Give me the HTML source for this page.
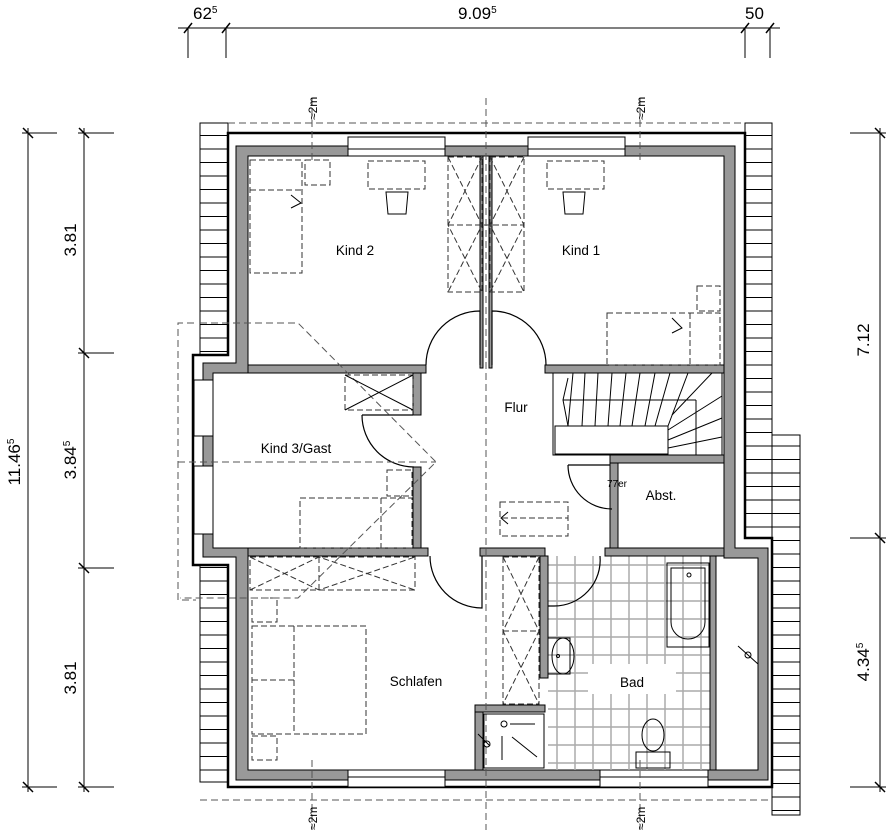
<!DOCTYPE html>
<html><head><meta charset="utf-8"><style>
html,body{margin:0;padding:0;background:#fff}
svg{display:block}
text{font-family:"Liberation Sans",sans-serif;fill:#000}
</style></head><body>
<svg width="888" height="830" viewBox="0 0 888 830" xmlns="http://www.w3.org/2000/svg">
<defs>
<pattern id="hatch" width="30" height="13.5" patternUnits="userSpaceOnUse"><rect width="30" height="13.5" fill="#fff"/><line x1="0" y1="0.5" x2="30" y2="0.5" stroke="#000" stroke-width="1"/></pattern>
<pattern id="tile" x="548" y="556" width="18" height="18" patternUnits="userSpaceOnUse"><line x1="9" y1="0" x2="9" y2="18" stroke="#aaa" stroke-width="1.5"/><line x1="0" y1="9" x2="18" y2="9" stroke="#aaa" stroke-width="1.5"/></pattern>
</defs>
<g stroke="#000" stroke-width="1" fill="none">
<line x1="178" y1="28" x2="780" y2="28"/>
<line x1="188" y1="28" x2="188" y2="58"/><line x1="226" y1="28" x2="226" y2="58"/>
<line x1="745" y1="28" x2="745" y2="58"/><line x1="770" y1="28" x2="770" y2="58"/>
<g stroke-width="1.5"><line x1="184" y1="33" x2="192" y2="23"/><line x1="222" y1="33" x2="230" y2="23"/><line x1="741" y1="33" x2="749" y2="23"/><line x1="766" y1="33" x2="774" y2="23"/></g>
<line x1="28" y1="128" x2="28" y2="792"/><line x1="84" y1="128" x2="84" y2="792"/>
<line x1="22" y1="133" x2="57" y2="133"/><line x1="22" y1="787" x2="57" y2="787"/>
<line x1="78" y1="133" x2="114" y2="133"/><line x1="78" y1="353" x2="114" y2="353"/><line x1="78" y1="568" x2="114" y2="568"/><line x1="78" y1="787" x2="114" y2="787"/>
<g stroke-width="1.5"><line x1="23" y1="128" x2="33" y2="138"/><line x1="23" y1="782" x2="33" y2="792"/><line x1="79" y1="128" x2="89" y2="138"/><line x1="79" y1="348" x2="89" y2="358"/><line x1="79" y1="563" x2="89" y2="573"/><line x1="79" y1="782" x2="89" y2="792"/></g>
<line x1="880" y1="128" x2="880" y2="792"/>
<line x1="850" y1="133" x2="886" y2="133"/><line x1="850" y1="538" x2="886" y2="538"/><line x1="850" y1="787" x2="886" y2="787"/>
<g stroke-width="1.5"><line x1="875" y1="128" x2="885" y2="138"/><line x1="875" y1="533" x2="885" y2="543"/><line x1="875" y1="782" x2="885" y2="792"/></g>
</g>
<g font-size="17">
<text x="193" y="19">62<tspan font-size="10" dy="-6">5</tspan></text>
<text x="458" y="19">9.09<tspan font-size="10" dy="-6">5</tspan></text>
<text x="745" y="19">50</text>
<text transform="translate(20,462) rotate(-90)" text-anchor="middle">11.46<tspan font-size="10" dy="-6">5</tspan></text>
<text transform="translate(76,240) rotate(-90)" text-anchor="middle">3.81</text>
<text transform="translate(76,460) rotate(-90)" text-anchor="middle">3.84<tspan font-size="10" dy="-6">5</tspan></text>
<text transform="translate(76,678) rotate(-90)" text-anchor="middle">3.81</text>
<text transform="translate(869,340) rotate(-90)" text-anchor="middle">7.12</text>
<text transform="translate(869,662) rotate(-90)" text-anchor="middle">4.34<tspan font-size="10" dy="-6">5</tspan></text>
</g>
<g stroke="#000" stroke-width="1">
<rect x="200" y="123" width="28" height="232" fill="url(#hatch)"/>
<rect x="200" y="565" width="28" height="217" fill="url(#hatch)"/>
<rect x="745" y="123" width="27" height="415" fill="url(#hatch)"/>
<rect x="772" y="435" width="28" height="380" fill="url(#hatch)"/>
</g>
<path d="M228,133 H745 V538 H772 V787 H228 V565 H193 V355 H228 Z" fill="#fff" stroke="#000" stroke-width="2.5"/>
<path d="M236,146 H735 V548 H768 V780 H236 V557 H203 V363 H236 Z M248,156 V373 H213 V548 H248 V770 H758 V558 H724 V156 Z" fill="#999" fill-rule="evenodd" stroke="#000" stroke-width="1"/>
<g fill="#fff" stroke="#000" stroke-width="1">
<rect x="348" y="137" width="97" height="19"/><rect x="528" y="137" width="97" height="19"/>
<rect x="348" y="770" width="97" height="17"/><rect x="600" y="770" width="108" height="17"/>
<rect x="194" y="380" width="19" height="56"/><rect x="194" y="466" width="19" height="68"/>
</g>
<g stroke="#000" stroke-width="1"><line x1="348" y1="149" x2="445" y2="149"/><line x1="528" y1="149" x2="625" y2="149"/><line x1="348" y1="777" x2="445" y2="777"/><line x1="600" y1="777" x2="708" y2="777"/></g>
<rect x="548" y="556" width="164" height="214" fill="url(#tile)"/>
<rect x="588" y="664" width="88" height="30" fill="#fff"/>
<g fill="#999" stroke="#000" stroke-width="1">
<rect x="248" y="365" width="178" height="8"/>
<rect x="413" y="373" width="8" height="42"/>
<rect x="413" y="467" width="8" height="81"/>
<rect x="248" y="548" width="180" height="8"/>
<rect x="480" y="156" width="3" height="212"/><rect x="489" y="156" width="3" height="212"/>
<rect x="545" y="365" width="179" height="8"/>
<rect x="480" y="548" width="65" height="8"/>
<rect x="540" y="556" width="8" height="122"/>
<rect x="475" y="705" width="8" height="65"/>
<rect x="475" y="705" width="70" height="7"/>
<rect x="610" y="455" width="8" height="93"/>
<rect x="610" y="455" width="114" height="8"/>
<rect x="605" y="548" width="119" height="8"/>
<rect x="710" y="556" width="6" height="214"/>
</g>
<g fill="none" stroke="#000" stroke-width="1.2">
<path d="M426,365 A54,54 0 0 1 480,311 V365"/>
<path d="M546,365 A54,54 0 0 0 492,311 V365"/>
<path d="M362,415 A52,52 0 0 0 414,467"/>
<line x1="362" y1="415" x2="413" y2="415"/>
<path d="M430,556 A52,52 0 0 0 482,608 V556"/>
<path d="M568,465 A44,44 0 0 0 612,509"/>
<line x1="568" y1="465" x2="610" y2="465"/>
<path d="M600,556 A46,46 0 0 1 554,606 H548"/>
</g>
<g stroke="#000" stroke-width="1" fill="none">
<rect x="553" y="373" width="169" height="82" fill="#fff"/>
<rect x="555" y="426" width="113" height="28"/>
<polyline points="568,378 563,400 568,426"/>
<line x1="563" y1="400" x2="696" y2="400"/><line x1="696" y1="400" x2="696" y2="455"/>
<line x1="573" y1="373" x2="568" y2="426"/><line x1="585" y1="373" x2="582" y2="426"/><line x1="598" y1="373" x2="595" y2="426"/>
<line x1="612" y1="373" x2="608" y2="426"/><line x1="626" y1="373" x2="620" y2="426"/><line x1="640" y1="373" x2="632" y2="426"/>
<line x1="655" y1="373" x2="645" y2="426"/><line x1="670" y1="373" x2="655" y2="426"/><line x1="688" y1="373" x2="668" y2="426"/>
<line x1="712" y1="373" x2="672" y2="415"/><line x1="722" y1="396" x2="668" y2="430"/><line x1="722" y1="418" x2="668" y2="440"/><line x1="722" y1="437" x2="668" y2="448"/>
</g>
<g fill="none" stroke="#333" stroke-width="1" stroke-dasharray="6,3">
<rect x="250" y="160" width="52" height="113"/><line x1="250" y1="190" x2="302" y2="190"/>
<rect x="305" y="160" width="25" height="25"/>
<rect x="368" y="161" width="57" height="28"/>
<rect x="547" y="161" width="57" height="28"/>
<rect x="448" y="157" width="34" height="135"/><rect x="490" y="157" width="34" height="135"/>
<line x1="448" y1="225" x2="524" y2="225"/>
<path d="M448,157 L482,225 L448,292 M482,157 L448,225 L482,292 M490,157 L524,225 L490,292 M524,157 L490,225 L524,292"/>
<rect x="607" y="313" width="113" height="52"/><line x1="690" y1="313" x2="690" y2="365"/>
<rect x="697" y="286" width="23" height="25"/>
<rect x="345" y="375" width="68" height="35"/>
<rect x="300" y="498" width="112" height="50"/><line x1="381" y1="498" x2="381" y2="548"/>
<rect x="387" y="470" width="25" height="26"/>
<rect x="250" y="557" width="165" height="33"/><line x1="319" y1="557" x2="319" y2="590"/>
<path d="M250,590 L319,557 L415,590 M250,557 L319,590 L415,557"/>
<rect x="252" y="598" width="25" height="24"/><rect x="252" y="736" width="25" height="24"/>
<rect x="252" y="626" width="114" height="108"/><line x1="252" y1="680" x2="294" y2="680"/><line x1="294" y1="626" x2="294" y2="734"/>
<rect x="503" y="557" width="36" height="147"/><line x1="503" y1="631" x2="539" y2="631"/>
<path d="M503,557 L539,631 L503,704 M539,557 L503,631 L539,704"/>
<rect x="500" y="502" width="68" height="34"/><line x1="502" y1="518" x2="568" y2="518"/>
</g>
<!-- dashed overhang / roof lines on top -->
<g stroke="#555" stroke-width="1" fill="none" stroke-dasharray="7,4">
<polyline points="228,123 745,123"/>
<polyline points="200,800 772,800"/>
<polyline points="194,323 178,323 178,600 196,600"/>
<polyline points="200,323 298,323 436,462 298,598 180,598"/>
<line x1="178" y1="462" x2="436" y2="462"/>
<line x1="486" y1="98" x2="486" y2="830"/>
<line x1="312" y1="98" x2="312" y2="160"/><line x1="640" y1="98" x2="640" y2="160"/>
<line x1="312" y1="760" x2="312" y2="830"/><line x1="640" y1="760" x2="640" y2="830"/>
</g>
<g font-size="12">
<text transform="translate(317,120) rotate(-90)">≈2m</text>
<text transform="translate(645,120) rotate(-90)">≈2m</text>
<text transform="translate(317,830) rotate(-90)">≈2m</text>
<text transform="translate(645,830) rotate(-90)">≈2m</text>
</g>
<g fill="none" stroke="#000" stroke-width="1">
<path d="M345,375 L413,410 M413,375 L345,410"/>
<path d="M386,192 h22 l-2,22 h-18 z"/><path d="M563,192 h22 l-2,22 h-18 z"/>
<path d="M291,195 l10,8 l-10,5"/><path d="M672,318 l10,10 l-10,5"/>
<path d="M508,512 l-7,6 l7,6"/>
<rect x="667" y="563" width="42" height="84"/>
<path d="M671,568 h34 v54 a17,17 0 0 1 -34,0 z"/><circle cx="689" cy="575" r="2"/>
<rect x="548" y="638" width="22" height="36"/><ellipse cx="563" cy="656" rx="11" ry="18"/><circle cx="558" cy="656" r="1.5"/>
<rect x="636" y="752" width="34" height="16"/><ellipse cx="653" cy="735" rx="11" ry="16"/>
<rect x="484" y="714" width="60" height="54"/><circle cx="504" cy="724" r="3"/><line x1="510" y1="724" x2="535" y2="724"/><line x1="512" y1="737" x2="537" y2="757"/><line x1="502" y1="736" x2="502" y2="760"/>
<line x1="738" y1="646" x2="758" y2="664"/><circle cx="748" cy="655" r="3"/>
<line x1="478" y1="734" x2="490" y2="746"/><circle cx="487" cy="744" r="3"/>
</g>
<g font-size="13.5">
<text x="355" y="255" text-anchor="middle">Kind  2</text>
<text x="581" y="255" text-anchor="middle">Kind  1</text>
<text x="516" y="412" text-anchor="middle">Flur</text>
<text x="296" y="453" text-anchor="middle">Kind  3/Gast</text>
<text x="661" y="500" text-anchor="middle">Abst.</text>
<text x="416" y="686" text-anchor="middle">Schlafen</text>
<text x="632" y="687" text-anchor="middle">Bad</text>
</g>
<text x="617" y="487" font-size="10" text-anchor="middle">77er</text>
</svg>
</body></html>
